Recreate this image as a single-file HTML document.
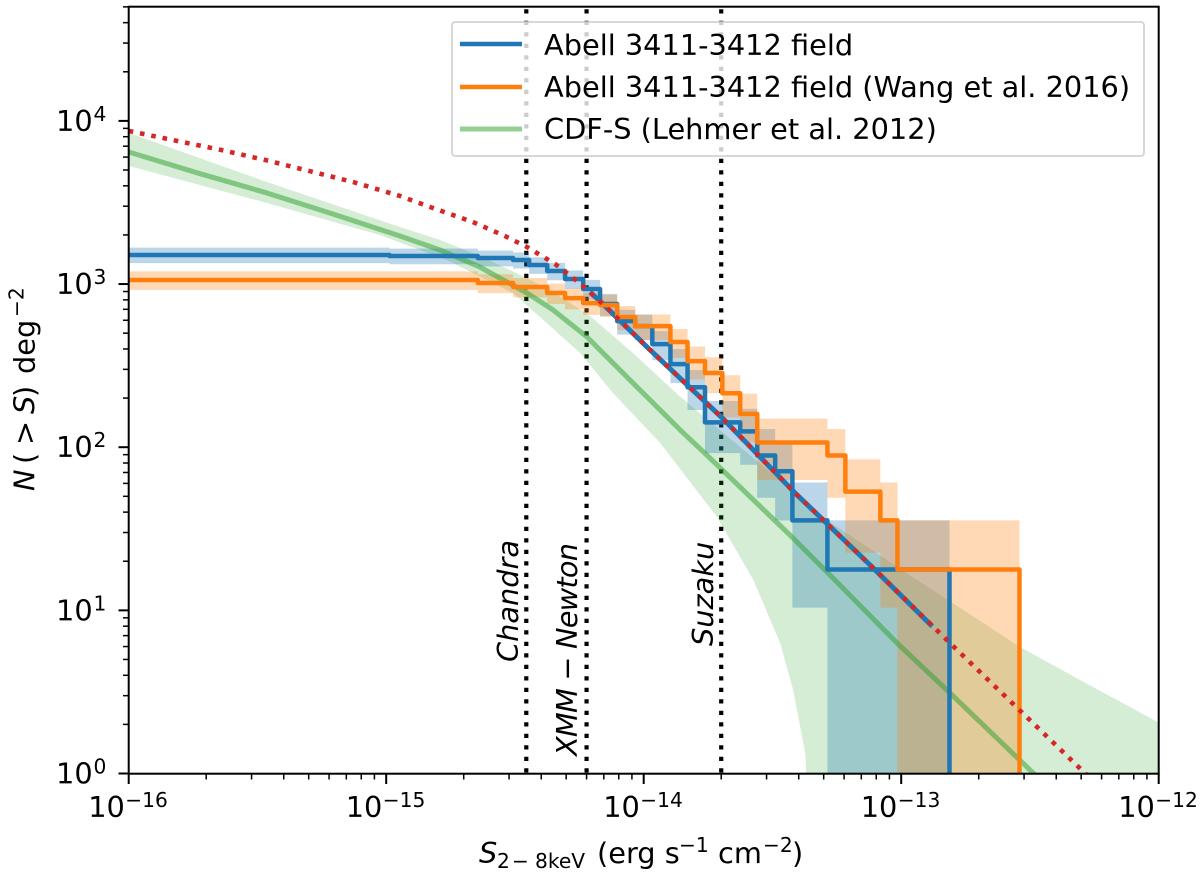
<!DOCTYPE html>
<html>
<head>
<meta charset="utf-8">
<title>Source counts</title>
<style>
html,body{margin:0;padding:0;background:#fff;overflow:hidden;}
svg{display:block;font-family:"DejaVu Sans","Liberation Sans",sans-serif;}
text{fill:#000;}
</style>
</head>
<body>
<svg id="chart" width="1200" height="877" viewBox="0 0 1200 877" xmlns="http://www.w3.org/2000/svg">
  <defs><clipPath id="plot-clip"><rect x="128.7" y="6.7" width="1030" height="767"></rect></clipPath></defs>
  <g id="plot" clip-path="url(#plot-clip)"></g>
  <g id="ticks"></g>
  <rect x="128.7" y="6.7" width="1030" height="767" fill="none" stroke="#000" stroke-width="2"></rect>

  <g font-style="italic" font-size="28.8">
    <text transform="translate(518,662) rotate(-90)">Chandra</text>
    <text transform="translate(577,756) rotate(-90)" textLength="213">XMM − Newton</text>
    <text transform="translate(713,646) rotate(-90)">Suzaku</text>
  </g>

  <rect x="452" y="22" width="692" height="134" rx="3" fill="#fff" fill-opacity="0.8" stroke="#ccc" stroke-width="1.5"></rect>
  <line x1="460" x2="522" y1="44" y2="44" stroke="#1f77b4" stroke-width="4.5"></line>
  <line x1="460" x2="522" y1="87" y2="87" stroke="#ff7f0e" stroke-width="4.5"></line>
  <line x1="460" x2="522" y1="129" y2="129" stroke="#2ca02c" stroke-opacity="0.5" stroke-width="5"></line>
  <g font-size="28.8">
    <text x="544" y="55">Abell 3411-3412 field</text>
    <text x="544" y="97">Abell 3411-3412 field (Wang et al. 2016)</text>
    <text x="544" y="139">CDF-S (Lehmer et al. 2012)</text>
  </g>

  <g>
    <text x="479" y="863" font-size="28.8" font-style="italic">S</text>
    <text x="497" y="868" font-size="20.2">2</text>
    <text x="512" y="868" font-size="20.2">−</text>
    <text x="535" y="868" font-size="20.2">8keV</text>
    <text x="597" y="863" font-size="28.8">(erg s</text>
    <text x="679" y="852" font-size="20.2">−1</text>
    <text x="718" y="863" font-size="28.8">cm</text>
    <text x="763" y="852" font-size="20.2">−2</text>
    <text x="792" y="863" font-size="28.8">)</text>
  </g>
  <g transform="translate(34.5,491) rotate(-90)">
    <text x="0" y="0" font-size="28.8" font-style="italic">N</text>
    <text x="27" y="0" font-size="28.8">(</text>
    <text x="46" y="0" font-size="28.8">&gt;</text>
    <text x="77" y="0" font-size="28.8" font-style="italic">S</text>
    <text x="94" y="0" font-size="28.8">)</text>
    <text x="117" y="0" font-size="28.8">deg</text>
    <text x="174" y="-11" font-size="20.2">−2</text>
  </g>

<script>
// ---- Data ----
const instrumentNames = ["Chandra", "XMM-Newton", "Suzaku"];
const instrumentFlux = [3.5e-15, 6e-15, 2e-14];

const blueEdges = [1e-16,1.03e-15,2.27e-15,3.11e-15,3.59e-15,4.22e-15,4.95e-15,5.82e-15,6.77e-15,7.89e-15,9.27e-15,1.08e-14,1.27e-14,1.48e-14,1.73e-14,2.37e-14,2.76e-14,3.24e-14,3.78e-14,5.17e-14,1.54e-13];
const blueCounts = [1507,1485,1444,1404,1308,1202,1073,932,754,593,552,428,323,233,142,125,89,71.2,35.6,17.8];
const blueUpper = [1671,1648,1604,1562,1461,1348,1211,1061,870,696,651,515,399,297,192,172,129,106.8,60.8,35.6];
const blueLower = [1343,1322,1284,1246,1155,1056,935,803,638,490,453,341,247,169,92,78,49,35.6,10.4,0.5];

const orangeEdges = [1e-16,2.27e-15,3.11e-15,4.22e-15,4.95e-15,5.82e-15,6.77e-15,7.89e-15,9.27e-15,1.27e-14,1.48e-14,1.73e-14,2.02e-14,2.37e-14,2.76e-14,5.17e-14,6.07e-14,8.30e-14,9.67e-14,2.88e-13];
const orangeCounts = [1058,1014,959,881,820,764,743,628,552,441,337,285,214,160,106.8,89,53.4,35.6,17.8];
const orangeUpper = [1195,1148,1090,1006,941,881,858,734,651,530,414,356,276,213,150,129,84.2,60.8,35.6];
const orangeLower = [921,880,828,756,699,647,628,522,453,352,260,214,152,107,63,49,22.6,10.4,0.5];

const blueFitFlux = [6.19e-15,7.28e-15,1.04e-14,2.02e-14,3.88e-14,7.59e-14,1.32e-13];
const blueFitCounts = [893,702,405,151,52.2,18.9,7.98];

const redFlux = [1e-16,2.28e-16,3.38e-16,5.01e-16,7.42e-16,1.13e-15,1.48e-15,2.17e-15,2.89e-15,3.52e-15,4.53e-15,5.77e-15,7.28e-15,1.04e-14,2.02e-14,3.88e-14,7.59e-14,1.58e-13,4.76e-13,5.69e-13];
const redCounts = [8680,6640,5765,4935,4225,3467,2967,2400,1970,1687,1327,986,702,405,151,52.2,18.9,6.10,1.14,0.868];

const greenFlux = [1e-16,1.85e-16,3.44e-16,6.21e-16,1.13e-15,1.62e-15,2.31e-15,3.52e-15,4.45e-15,6.03e-15,7.61e-15,1.03e-14,1.39e-14,1.76e-14,3.78e-14,5.45e-14,9.67e-14,1.51e-13,3.27e-13,5.95e-13];
const greenCounts = [6450,4797,3617,2688,1970,1617,1272,881,693,473,327,203,127,89.3,28.0,15.7,6.27,3.23,1.0,0.40];

const greenUpperFlux = [1e-16,3.44e-16,1.13e-15,1.62e-15,2.31e-15,3.52e-15,4.45e-15,6.19e-15,9.10e-15,1.39e-14,2.67e-14,5.17e-14,9.67e-14,2.91e-13,4.98e-13,1e-12];
const greenUpperCounts = [8440,4225,2237,1862,1485,1088,893,637,377,203,85.6,35.6,18.4,5.93,3.72,2.05];
const greenLowerFlux = [1e-16,3.44e-16,9.46e-16,1.72e-15,3.11e-15,5.67e-15,7.61e-15,1.16e-14,1.93e-14,2.67e-14,3.39e-14,3.81e-14,4.24e-14,4.28e-14,4.30e-14,1e-12];
const greenLowerCounts = [5300,3139,2000,1403,881,377,214,106,37.2,15.3,6.27,3.23,1.33,1.0,0.9,0.9];

const xTickExponents = [-16,-15,-14,-13,-12];
const xTickLabels = ["−16","−15","−14","−13","−12"];
const yTickExponents = [0,1,2,3,4];
const yTickLabels = ["0","1","2","3","4"];
const minorMultipliers = [2,3,4,5,6,7,8,9];

// ---- Axis functions ----
const SVGNS = "http://www.w3.org/2000/svg";
function X(s){ return 128.7 + (Math.log10(s) + 16) * 257.5; }
function Y(n){ return 773.5 - Math.log10(n) * 163.15; }
const plot = document.getElementById("plot");
const ticks = document.getElementById("ticks");

function make(tag, attrs, parent){
  const el = document.createElementNS(SVGNS, tag);
  for (const k in attrs) el.setAttribute(k, attrs[k]);
  parent.appendChild(el);
  return el;
}
function linePath(xs, ys){
  return xs.map(function(s,i){ return (i ? "L" : "M") + X(s).toFixed(2) + " " + Y(ys[i]).toFixed(2); }).join("");
}
function stepPath(edges, vals, dropToBottom){
  let d = "M" + X(edges[0]).toFixed(2) + " " + Y(vals[0]).toFixed(2);
  vals.forEach(function(v,i){
    d += "L" + X(edges[i]).toFixed(2) + " " + Y(v).toFixed(2);
    d += "L" + X(edges[i+1]).toFixed(2) + " " + Y(v).toFixed(2);
  });
  if (dropToBottom) d += "L" + X(edges[edges.length-1]).toFixed(2) + " 800";
  return d;
}
function bandPath(edges, up, low){
  let d = "";
  up.forEach(function(v,i){
    d += (i ? "L" : "M") + X(edges[i]).toFixed(2) + " " + Y(v).toFixed(2);
    d += "L" + X(edges[i+1]).toFixed(2) + " " + Y(v).toFixed(2);
  });
  for (let i = low.length - 1; i >= 0; i--){
    d += "L" + X(edges[i+1]).toFixed(2) + " " + Y(low[i]).toFixed(2);
    d += "L" + X(edges[i]).toFixed(2) + " " + Y(low[i]).toFixed(2);
  }
  return d + "Z";
}

// ---- Marks ----
instrumentFlux.forEach(function(s, i){
  const l = make("line", {x1:X(s), x2:X(s), y1:773.5, y2:6.7, stroke:"#000", "stroke-width":4.2, "stroke-dasharray":"4.2 7.3", "stroke-dashoffset":"-1"}, plot);
  
  
});

let gb = linePath(greenUpperFlux, greenUpperCounts);
for (let i = greenLowerFlux.length - 1; i >= 0; i--){
  gb += "L" + X(greenLowerFlux[i]).toFixed(2) + " " + Y(greenLowerCounts[i]).toFixed(2);
}
const greenBand = make("path", {d:gb + "Z", fill:"#2ca02c", "fill-opacity":0.2, stroke:"none"}, plot);



const blueBand = make("path", {d:bandPath(blueEdges, blueUpper, blueLower), fill:"#1f77b4", "fill-opacity":0.3, stroke:"none"}, plot);



const orangeBand = make("path", {d:bandPath(orangeEdges, orangeUpper, orangeLower), fill:"#ff7f0e", "fill-opacity":0.3, stroke:"none"}, plot);



const greenLine = make("path", {d:linePath(greenFlux, greenCounts), fill:"none", stroke:"#2ca02c", "stroke-opacity":0.5, "stroke-width":5, "stroke-linejoin":"round"}, plot);



const blueFit = make("path", {d:linePath(blueFitFlux, blueFitCounts), fill:"none", stroke:"#1f77b4", "stroke-width":5}, plot);



const blueStep = make("path", {d:stepPath(blueEdges, blueCounts, true), fill:"none", stroke:"#1f77b4", "stroke-width":4.5, "stroke-linejoin":"round"}, plot);



const orangeStep = make("path", {d:stepPath(orangeEdges, orangeCounts, true), fill:"none", stroke:"#ff7f0e", "stroke-width":4.5, "stroke-linejoin":"round"}, plot);



const redLine = make("path", {d:linePath(redFlux, redCounts), fill:"none", stroke:"#d62728", "stroke-width":4.6, "stroke-dasharray":"4.6 6.9"}, plot);



// ---- Ticks ----
xTickExponents.forEach(function(e, i){
  const x = X(Math.pow(10, e));
  const t = make("line", {x1:x, x2:x, y1:773.7, y2:784, stroke:"#000", "stroke-width":2}, ticks);
  
  
  const a = make("text", {x:x - 40.5, y:817, "font-size":28.8}, ticks);
  a.textContent = "10";
  
  
  const b = make("text", {x:x - 3.5, y:807, "font-size":20.2}, ticks);
  b.textContent = xTickLabels[i];
  
  
  if (i < xTickExponents.length - 1){
    minorMultipliers.forEach(function(m){
      const mx = X(m * Math.pow(10, e));
      const mt = make("line", {x1:mx, x2:mx, y1:773.7, y2:779.5, stroke:"#000", "stroke-width":1.5}, ticks);
      
      
    });
  }
});
yTickExponents.forEach(function(e, i){
  const y = Y(Math.pow(10, e));
  const t = make("line", {x1:118.5, x2:128.7, y1:y, y2:y, stroke:"#000", "stroke-width":2}, ticks);
  
  
  const a = make("text", {x:56, y:y + 10, "font-size":28.8}, ticks);
  a.textContent = "10";
  
  
  const b = make("text", {x:93.5, y:y, "font-size":20.2}, ticks);
  b.textContent = yTickLabels[i];
  
  
  minorMultipliers.forEach(function(m){
    const v = m * Math.pow(10, e);
    if (v > 5e4) return;
    const my = Y(v);
    const mt = make("line", {x1:123, x2:128.7, y1:my, y2:my, stroke:"#000", "stroke-width":1.5}, ticks);
    
    
  });
});
</script>
</svg>
</body>
</html>
